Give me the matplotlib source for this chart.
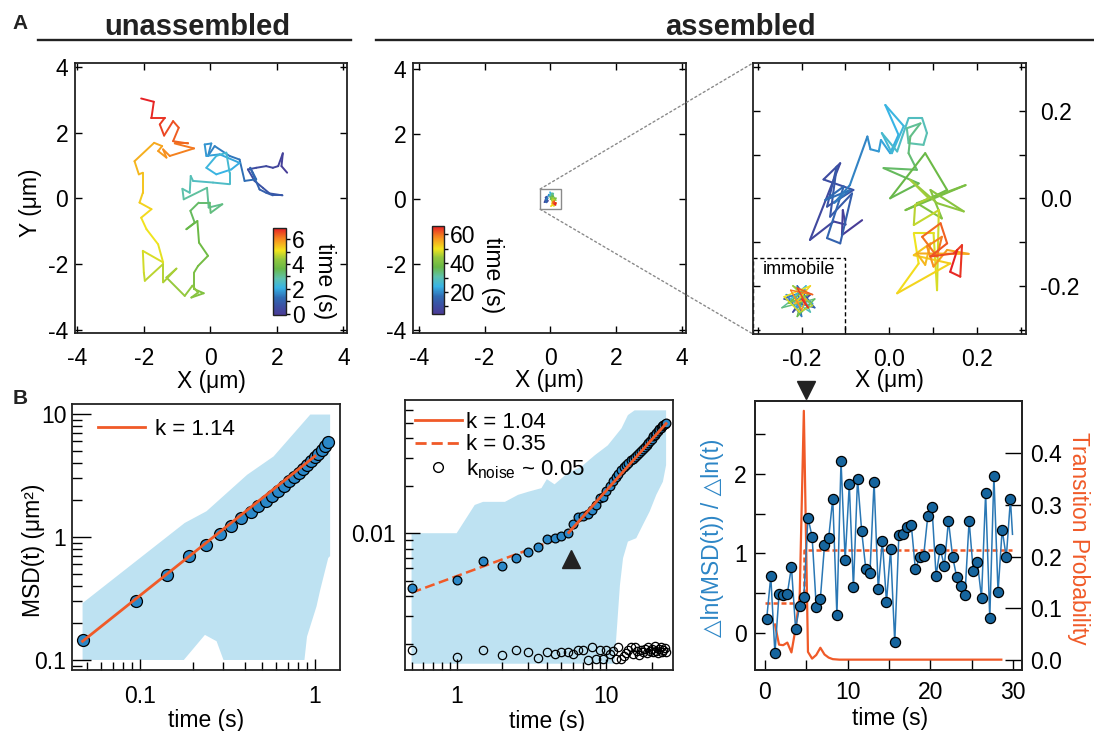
import numpy as np
import matplotlib
matplotlib.use("Agg")
import matplotlib.pyplot as plt
from matplotlib.collections import LineCollection
from matplotlib.colors import LinearSegmentedColormap, Normalize
from matplotlib.cm import ScalarMappable
from matplotlib.patches import Rectangle, ConnectionPatch
from matplotlib.lines import Line2D
from matplotlib.ticker import FixedLocator, FixedFormatter, NullFormatter, FuncFormatter, LogLocator
import matplotlib.transforms as mtransforms

plt.rcParams['font.family'] = ['Liberation Sans', 'DejaVu Sans']
plt.rcParams['axes.unicode_minus'] = False
FS = 16.5
plt.rcParams['font.size'] = FS

# ------------------------------------------------------------------ data
# A, unassembled trajectory (um); time 0 .. 6.9 s
unasm_x = [2.31, 2.14, 2.18, 2.04, 1.88, 1.68, 1.38, 1.13, 1.33, 1.58, 1.78, 2.17, 1.88, 1.68, 1.48,
           1.20, 1.28, 1.38, 1.03, 0.88, 0.58, 0.13, -0.07, 0.03, -0.17, -0.12, 0.28, 0.88, 0.63,
           0.18, -0.12, 0.18, 0.48, 0.58, 0.58, 0.08, -0.52, -0.59, -0.62, -0.84, -0.80, -0.10,
           -0.05, 0.36, 0.01, -0.02, -0.35, -0.60, -0.47, -0.72, -0.39, -0.34, -0.07, -0.37, -0.49,
           -0.49, -0.20, -0.57, -0.37, -0.54, -0.77, -1.32, -1.02, -1.42, -1.42, -1.97, -2.00,
           -2.03, -1.42, -1.57, -1.92, -2.08, -1.77, -2.13, -2.03, -2.03, -2.15, -2.28, -1.69,
           -1.45, -1.57, -1.32, -1.42, -1.22, -0.49, -1.07, -0.67, -1.12, -0.95, -1.12, -1.39,
           -1.52, -1.37, -1.77, -1.70, -2.08]
unasm_y = [0.78, 0.98, 1.37, 0.98, 0.93, 0.98, 0.93, 0.88, 0.53, 0.32, 0.15, 0.09, 0.09, 0.17, 0.27,
           0.93, 0.78, 0.58, 0.53, 1.18, 1.29, 1.59, 1.29, 1.67, 1.64, 1.29, 1.34, 1.08, 0.88,
           0.73, 0.93, 1.29, 1.39, 0.78, 0.43, 0.48, 0.53, 0.68, 0.17, 0.29, -0.03, 0.32,
           -0.28, -0.18, -0.44, -0.13, -0.13, -0.38, -0.74, -0.94, -0.69, -1.35, -1.75, -2.06, -2.26,
           -2.76, -2.89, -3.02, -2.87, -2.66, -2.97, -2.41, -2.14, -2.56, -2.00, -2.51, -2.26,
           -1.60, -1.95, -1.40, -0.94, -0.59, -0.33, -0.13, 0.17, 0.78, 0.73, 1.13, 1.69,
           1.59, 1.44, 1.24, 1.49, 1.29, 1.52, 1.67, 1.67, 1.74, 2.15, 2.35, 1.91,
           2.25, 2.45, 2.45, 2.94, 3.04]
unasm_trange = (0.0, 6.9)

# A, assembled trajectory (um); time ~4.7 .. 66 s
asm_x = [-0.062, -0.108, -0.106, -0.100,
         -0.127, -0.181, -0.112, -0.150, -0.082, -0.142, -0.120, -0.135, -0.085, -0.112, -0.142,
         -0.104, -0.146, -0.089, -0.125, -0.090,
         -0.050, -0.043, -0.024, -0.019,
         0.002, 0.021, -0.009, 0.033, 0.006, -0.017, 0.018,
         0.044, 0.075, 0.086, 0.078, 0.044, 0.040, 0.071, 0.048,
         0.044, 0.063, -0.013, 0.067, 0.002, 0.082, 0.132, 0.037, 0.174, 0.063, 0.120, 0.094,
         0.170, 0.109, 0.048, 0.090,
         0.059, 0.056, 0.113, 0.109, 0.101,
         0.056, 0.067, 0.018, 0.139, 0.056, 0.094, 0.082,
         0.063, 0.181, 0.132, 0.101, 0.086, 0.120, 0.109,
         0.075, 0.117, 0.132, 0.094, 0.147, 0.166, 0.162, 0.139, 0.155]
asm_y = [-0.050, -0.084, -0.027, -0.060,
         -0.053, -0.095, 0.080, 0.043, 0.019, -0.019, 0.072, -0.042, 0.011, -0.103, -0.091,
         0.027, -0.004, 0.019, -0.010, 0.030,
         0.141, 0.112, 0.107, 0.133,
         0.103, 0.145, 0.213, 0.165, 0.103, 0.149, 0.107,
         0.183, 0.183, 0.149, 0.122, 0.126, 0.160, 0.171, 0.141,
         0.103, 0.065, 0.069, 0.034, 0.000, 0.103, 0.019, -0.027, 0.030, -0.011, -0.046, 0.019,
         -0.030, -0.011, 0.042, 0.000,
         -0.015, -0.061, -0.027, -0.210, -0.080,
         -0.080, -0.149, -0.217, -0.149, -0.130, -0.103, -0.152,
         -0.126, -0.127, -0.118, -0.156, -0.110, -0.088, -0.133,
         -0.088, -0.057, -0.103, -0.133, -0.126, -0.107, -0.179, -0.168, -0.118]
asm_trange = (4.7, 66.0)

# immobile example (um)
immob_x = [-0.23, -0.18, -0.22, -0.19, -0.24, -0.17, -0.21, -0.20, -0.235, -0.175, -0.215, -0.19,
           -0.225, -0.18, -0.20, -0.245, -0.17, -0.21, -0.195, -0.23, -0.185, -0.22, -0.175, -0.205,
           -0.24, -0.18, -0.215, -0.19, -0.20, -0.225, -0.175, -0.21, -0.185, -0.20]
immob_y = [-0.24, -0.22, -0.26, -0.21, -0.23, -0.25, -0.20, -0.27, -0.22, -0.24, -0.25, -0.20,
           -0.23, -0.26, -0.215, -0.25, -0.23, -0.27, -0.21, -0.24, -0.22, -0.20, -0.245, -0.26,
           -0.225, -0.20, -0.24, -0.23, -0.255, -0.21, -0.22, -0.205, -0.25, -0.23]

# B1 unassembled MSD
msd1_t = [0.047, 0.095, 0.142, 0.19, 0.238, 0.285, 0.333, 0.38, 0.428, 0.475, 0.523, 0.57, 0.618,
          0.665, 0.713, 0.76, 0.808, 0.855, 0.903, 0.95, 0.998, 1.045, 1.093, 1.14, 1.188]
msd1_y = [0.146, 0.303, 0.488, 0.695, 0.866, 1.064, 1.236, 1.427, 1.60, 1.77, 1.95, 2.14, 2.38,
          2.61, 2.83, 3.05, 3.31, 3.57, 3.82, 4.12, 4.44, 4.76, 5.13, 5.52, 5.92]
fit1_t = [0.047, 1.0]
fit1_y = [0.142, 4.55]
band1_up_t = [0.047, 0.18, 0.24, 0.41, 0.58, 0.94, 1.22]
band1_up_y = [0.29, 1.30, 1.62, 3.21, 4.52, 9.9, 9.9]
band1_lo_t = [0.047, 0.178, 0.235, 0.274, 0.30, 0.87, 0.90, 1.02, 1.07, 1.19, 1.22]
band1_lo_y = [0.1, 0.1, 0.16, 0.142, 0.1, 0.1, 0.155, 0.273, 0.37, 0.675, 0.70]

# B2 assembled MSD
msd2_t = np.arange(1, 51) * 0.5
msd2_y = [0.00453, 0.00506, 0.00671, 0.00624, 0.00695, 0.00758, 0.00815, 0.0092, 0.0093, 0.0096,
          0.0101, 0.0114, 0.0127, 0.0128, 0.0132, 0.0140, 0.0150, 0.0168, 0.0170, 0.0186,
          0.0200, 0.0215, 0.0226, 0.0238, 0.0252, 0.0262, 0.0270, 0.0280, 0.0290, 0.0296,
          0.0305, 0.0312, 0.0322, 0.0330, 0.0340, 0.0352, 0.0362, 0.0373, 0.0385, 0.0398,
          0.0410, 0.0420, 0.0432, 0.0443, 0.0455, 0.0465, 0.0476, 0.0484, 0.0493, 0.0501]
noise2_y = [0.00182, 0.00164, 0.00181, 0.00169, 0.00182, 0.00177, 0.00161, 0.00177, 0.00172, 0.00177,
            0.00176, 0.00173, 0.00182, 0.00183, 0.00158, 0.00189, 0.00160, 0.00183, 0.00159, 0.00183,
            0.00172, 0.00179, 0.00160, 0.00189, 0.00160, 0.00168, 0.00175, 0.00182, 0.00190, 0.00172,
            0.00189, 0.00180, 0.00170, 0.00182, 0.00178, 0.00184, 0.00174, 0.00190, 0.00180, 0.00184,
            0.00178, 0.00192, 0.00180, 0.00175, 0.00186, 0.00190, 0.00178, 0.00183, 0.00187, 0.00176]
fit2a_t = [5.6, 25.0]      # k = 1.04
fit2a_y = [0.0101, 0.0495]
fit2b_t = [0.5, 4.6]       # k = 0.35
fit2b_y = [0.0042, 0.0091]
band2_up_t = [0.5, 1.0, 1.32, 1.5, 2.1, 2.57, 3.0, 3.68, 4.0, 4.5, 5.5, 6.8, 8.4, 10.2, 12.6, 13.9, 15.4, 25.0]
band2_up_y = [0.0100, 0.0100, 0.0151, 0.0158, 0.0158, 0.0175, 0.0183, 0.0193, 0.0220, 0.0204,
              0.0240, 0.0264, 0.0313, 0.0360, 0.0462, 0.0560, 0.0600, 0.0600]
band2_lo_t = [0.5, 11.3, 12.3, 12.9, 13.9, 15.8, 17.5, 19.4, 21.5, 23.8, 25.0]
band2_lo_y = [0.00149, 0.00149, 0.0047, 0.00695, 0.00885, 0.0093, 0.0113, 0.0137, 0.0175, 0.0212, 0.027]
plateau_mark_t, plateau_mark_y = 5.8, 0.0069

# B3 local slope and transition probability
slope_t = 0.2 + 0.5 * np.arange(60)
slope_y = [0.17, 0.71, -0.26, 0.49, 0.48, 0.49, 0.83, 0.05, 0.34, 0.45,
           1.45, 1.21, 0.33, 0.43, 1.10, 1.19, 1.69, 0.22, 2.16, 0.92,
           1.87, 0.57, 1.94, 1.28, 0.80, 0.75, 1.90, 0.55, 1.16, 0.39,
           1.05, -0.12, 1.23, 1.24, 1.33, 1.36, 0.80, 0.95, 0.97, 1.47,
           1.59, 0.72, 1.06, 0.84, 1.41, 0.96, 0.70, 0.59, 0.48, 1.41,
           0.78, 0.89, 0.44, 1.76, 0.18, 1.98, 0.51, 1.30, 0.95, 1.68]
slope_end_t, slope_end_y = 29.95, 1.24
step_t = [0.0, 4.7, 4.7, 29.9]
step_k = [0.37, 0.37, 1.04, 1.04]
prob_t = [1.2, 1.7, 2.2, 2.7, 3.2, 3.7, 4.2, 4.7, 5.2, 5.7, 6.2, 6.7, 7.2, 7.7, 8.2, 9.0, 28.6]
prob_p = [0.069, 0.030, 0.029, 0.034, 0.015, 0.061, 0.126, 0.482, 0.016, 0.003, 0.010, 0.024,
          0.011, 0.005, 0.002, 0.001, 0.001]
transition_t = 4.95

# ------------------------------------------------------------------ style
W, H = 1094, 731
fig = plt.figure(figsize=(W / 100, H / 100), dpi=100)
fig.patch.set_facecolor('white')

ORANGE = '#f05a28'
FILL = '#bee2f2'
MBLUE = '#2b88c8'
DBLUE = '#16659e'
LBLUE = '#2a77b4'
LABBLUE = '#2d86c6'
SPC = '#222222'

cmap = LinearSegmentedColormap.from_list('traj', [
    (0.00, '#4a3b96'), (0.10, '#3b50a3'), (0.20, '#2f6cb4'), (0.31, '#38b4e6'),
    (0.42, '#5ec2ad'), (0.53, '#68b847'), (0.64, '#93c83e'), (0.74, '#f2e51d'),
    (0.86, '#f7941e'), (1.00, '#e61e25')])


def px_axes(l, t, r, b):
    return fig.add_axes([l / W, 1 - b / H, (r - l) / W, (b - t) / H])


def frame(ax, lw=1.3):
    for s in ax.spines.values():
        s.set_color(SPC)
        s.set_linewidth(lw)


def add_traj(ax, x, y, trange, norm, lw):
    pts = np.column_stack([x, y])
    segs = np.stack([pts[:-1], pts[1:]], axis=1)
    t = np.linspace(trange[0], trange[1], len(x))
    lc = LineCollection(segs, cmap=cmap, norm=norm, linewidths=lw,
                        capstyle='round', joinstyle='round')
    lc.set_array(0.5 * (t[:-1] + t[1:]))
    ax.add_collection(lc)


def add_cbar(ax, rect, norm, ticks, minor, label_xy):
    cax = ax.inset_axes(rect)
    cb = fig.colorbar(ScalarMappable(norm=norm, cmap=cmap), cax=cax)
    cb.set_ticks(ticks)
    cb.set_ticklabels([f'{v:g}' for v in ticks])
    cax.yaxis.set_minor_locator(FixedLocator(minor))
    cax.tick_params(which='both', direction='out', length=3, width=1, labelsize=FS, pad=1)
    cb.outline.set_linewidth(1.0)
    cb.outline.set_edgecolor(SPC)
    cax.set_ylabel('time (s)', rotation=-90, va='center', ha='center', fontsize=FS)
    cax.yaxis.set_label_coords(*label_xy)
    return cax


# ------------------------------------------------------------------ headers
fig.text(20 / W, 1 - 29 / H, 'A', weight='bold', size=15, ha='center', va='baseline', color='#222')
fig.text(20 / W, 1 - 404 / H, 'B', weight='bold', size=15, ha='center', va='baseline', color='#222')
fig.text(197 / W, 1 - 35 / H, 'unassembled', weight='bold', size=21, ha='center', va='baseline', color='#222')
fig.text(740 / W, 1 - 35 / H, 'assembled', weight='bold', size=21, ha='center', va='baseline', color='#222')
fig.add_artist(Line2D([38 / W, 351 / W], [1 - 40 / H, 1 - 40 / H], color='#222', lw=1.7))
fig.add_artist(Line2D([376 / W, 1.0], [1 - 40 / H, 1 - 40 / H], color='#222', lw=1.7))

# ------------------------------------------------------------------ A1
norm1 = Normalize(-0.1, 6.9)
a1 = px_axes(75, 63, 347, 333)
add_traj(a1, unasm_x, unasm_y, unasm_trange, norm1, 1.4)
a1.set_xlim(-4.07, 4.11)
a1.set_ylim(-4.1, 4.12)
a1.set_xticks([-4, -2, 0, 2, 4])
a1.set_yticks([-4, -2, 0, 2, 4])
a1.tick_params(direction='in', length=5, width=1, top=True, right=True, labelsize=FS)
a1.tick_params(axis='x', pad=10)
a1.tick_params(axis='y', pad=5)
frame(a1)
a1.set_xlabel('X (\u03bcm)', fontsize=FS, va='center')
a1.xaxis.set_label_coords(0.5, -0.178)
a1.set_ylabel('Y (\u03bcm)', fontsize=FS, va='center')
a1.yaxis.set_label_coords(-0.162, 0.481)
add_cbar(a1, [0.728, 0.067, 0.048, 0.322], norm1, [0, 2, 4, 6], [1, 3, 5], (3.95, 0.39))

# ------------------------------------------------------------------ A2
norm2 = Normalize(*asm_trange)
a2 = px_axes(413, 63, 686, 333)
add_traj(a2, asm_x, asm_y, asm_trange, norm2, 1.0)
a2.add_patch(Rectangle((-0.31, -0.31), 0.62, 0.62, fill=False, ec='#8a8a8a', lw=1.0))
a2.set_xlim(-4.18, 4.13)
a2.set_ylim(-4.1, 4.17)
a2.set_xticks([-4, -2, 0, 2, 4])
a2.set_yticks([-4, -2, 0, 2, 4])
a2.tick_params(direction='in', length=5, width=1, top=True, right=True, labelsize=FS)
a2.tick_params(axis='x', pad=10)
a2.tick_params(axis='y', pad=5)
frame(a2)
a2.set_xlabel('X (\u03bcm)', fontsize=FS, va='center')
a2.xaxis.set_label_coords(0.5, -0.176)
add_cbar(a2, [0.069, 0.071, 0.044, 0.326], norm2, [20, 40, 60], [10, 30, 50], (5.05, 0.443))

# ------------------------------------------------------------------ A3
a3 = px_axes(753, 63, 1026, 334)
add_traj(a3, asm_x, asm_y, asm_trange, norm2, 1.5)
add_traj(a3, immob_x, immob_y, asm_trange, norm2, 1.1)
a3.add_patch(Rectangle((-0.312, -0.312), 0.212, 0.175, fill=False, ec='k', lw=1.0, ls=(0, (3, 2))))
a3.text(-0.206, -0.163, 'immobile', fontsize=13, ha='center', va='center')
a3.set_xlim(-0.311, 0.312)
a3.set_ylim(-0.31, 0.309)
tk = [-0.3, -0.2, -0.1, 0.0, 0.1, 0.2, 0.3]
tl = ['', '-0.2', '', '0.0', '', '0.2', '']
a3.xaxis.set_major_locator(FixedLocator(tk))
a3.xaxis.set_major_formatter(FixedFormatter(tl))
a3.yaxis.set_major_locator(FixedLocator(tk))
a3.yaxis.set_major_formatter(FixedFormatter(tl))
a3.tick_params(direction='in', length=5, width=1, top=True, right=True, left=True,
               labelleft=False, labelright=True, labelsize=FS, pad=10)
frame(a3)
a3.set_xlabel('X (\u03bcm)', fontsize=FS, va='center')
a3.xaxis.set_label_coords(0.5, -0.173)

for xyA, xyB in [((-0.31, 0.31), (0, 1)), ((-0.31, -0.31), (0, 0))]:
    con = ConnectionPatch(xyA=xyA, coordsA=a2.transData, xyB=xyB, coordsB=a3.transAxes,
                          color='#8a8a8a', lw=1.0, ls=(0, (1.5, 2)))
    fig.add_artist(con)

# ------------------------------------------------------------------ B1
b1 = px_axes(72, 404, 340, 670)
b1.set_xscale('log')
b1.set_yscale('log')
b1.fill(np.concatenate([band1_up_t, band1_lo_t[::-1]]),
        np.concatenate([band1_up_y, band1_lo_y[::-1]]), color=FILL, lw=0, zorder=1)
b1.plot(msd1_t, msd1_y, 'o', ms=8.6, mfc=MBLUE, mec='k', mew=0.9, zorder=3)
b1.plot(fit1_t, fit1_y, color=ORANGE, lw=2, zorder=4, label='k = 1.14')
b1.set_xlim(0.0409, 1.389)
b1.set_ylim(0.0829, 12.06)
fmt = FuncFormatter(lambda v, p: f'{v:g}')
for axis in (b1.xaxis, b1.yaxis):
    axis.set_major_locator(LogLocator(base=10))
    axis.set_minor_locator(LogLocator(base=10, subs=np.arange(2, 10)))
    axis.set_major_formatter(fmt)
    axis.set_minor_formatter(NullFormatter())
b1.tick_params(axis='y', which='major', direction='in', length=14, width=1, labelsize=FS, pad=4)
b1.tick_params(axis='y', which='minor', direction='in', length=7, width=1)
b1.tick_params(axis='x', which='major', direction='in', length=8, width=1, labelsize=FS, pad=11)
b1.tick_params(axis='x', which='minor', direction='in', length=5.5, width=1)
frame(b1)
b1.set_xlabel('time (s)', fontsize=FS, va='center')
b1.xaxis.set_label_coords(0.5, -0.19)
b1.set_ylabel('MSD(t) (\u03bcm\u00b2)', fontsize=FS, va='center')
b1.yaxis.set_label_coords(-0.142, 0.451)
b1.legend(loc='upper left', bbox_to_anchor=(0.097, 0.945), frameon=False, fontsize=16,
          handlelength=2.1, handletextpad=0.45, borderpad=0, borderaxespad=0)

# ------------------------------------------------------------------ B2
b2 = px_axes(405, 400, 673, 670)
b2.set_xscale('log')
b2.set_yscale('log')
b2.fill(np.concatenate([band2_up_t, band2_lo_t[::-1]]),
        np.concatenate([band2_up_y, band2_lo_y[::-1]]), color=FILL, lw=0, zorder=1)
b2.plot(msd2_t, noise2_y, 'o', ms=6, mfc='none', mec='k', mew=0.9, zorder=2)
b2.plot(fit2b_t, fit2b_y, color=ORANGE, lw=1.8, dashes=(4, 1.8), zorder=2.5)
b2.plot(msd2_t, msd2_y, 'o', ms=6.3, mfc=MBLUE, mec='k', mew=0.9, zorder=3)
b2.plot(fit2a_t, fit2a_y, color=ORANGE, lw=2, zorder=4)
b2.plot([plateau_mark_t], [plateau_mark_y], marker='^', ms=13, color='#222', ls='none', zorder=5)
b2.set_xlim(0.452, 27.8)
b2.set_ylim(0.00136, 0.0698)
for axis in (b2.xaxis, b2.yaxis):
    axis.set_major_locator(LogLocator(base=10))
    axis.set_minor_locator(LogLocator(base=10, subs=np.arange(2, 10)))
    axis.set_major_formatter(fmt)
    axis.set_minor_formatter(NullFormatter())
b2.tick_params(axis='y', which='major', direction='in', length=11, width=1, labelsize=FS, pad=7)
b2.tick_params(axis='y', which='minor', direction='in', length=6, width=1)
b2.tick_params(axis='x', which='major', direction='in', length=8, width=1, labelsize=FS, pad=11)
b2.tick_params(axis='x', which='minor', direction='in', length=6, width=1)
frame(b2)
b2.set_xlabel('time (s)', fontsize=FS, va='center')
b2.xaxis.set_label_coords(0.529, -0.19)
hs = [Line2D([], [], color=ORANGE, lw=2),
      Line2D([], [], color=ORANGE, lw=2, dashes=(4, 1.8)),
      Line2D([], [], ls='none', marker='o', ms=7, mfc='none', mec='k', mew=1)]
b2.legend(hs, ['k = 1.04', 'k = 0.35', r'k$_{\mathregular{noise}}$ ~ 0.05'],
          loc='upper left', bbox_to_anchor=(0.037, 0.957), frameon=False, fontsize=16,
          handlelength=2.1, handletextpad=0.2, borderpad=0, borderaxespad=0, labelspacing=0.08)

# ------------------------------------------------------------------ B3
b3 = px_axes(755, 401, 1022, 670)
tw = b3.twinx()
b3.set_zorder(tw.get_zorder() + 1)
b3.patch.set_visible(False)
tw.plot(prob_t, prob_p, color=ORANGE, lw=1.6)
b3.plot(step_t, step_k, color=ORANGE, lw=1.8, dashes=(2, 1.2), zorder=2)
b3.plot(np.append(slope_t, slope_end_t), np.append(slope_y, slope_end_y), color=LBLUE, lw=1.1, zorder=3)
b3.plot(slope_t, slope_y, 'o', ms=7.3, mfc=DBLUE, mec='k', mew=0.9, zorder=4)
b3.plot([transition_t], [1.04], marker='v', ms=13, color='#222', ls='none', clip_on=False,
        transform=mtransforms.blended_transform_factory(b3.transData, b3.transAxes))
b3.set_xlim(-1.21, 31.1)
b3.set_ylim(-0.47, 2.92)
tw.set_ylim(-0.019, 0.501)
b3.set_xticks([0, 10, 20, 30])
b3.xaxis.set_minor_locator(FixedLocator([5, 15, 25]))
b3.set_yticks([0, 1, 2])
b3.yaxis.set_minor_locator(FixedLocator([0.5, 1.5, 2.5]))
b3.tick_params(which='both', direction='in', length=7, width=1, labelsize=FS)
b3.tick_params(axis='x', pad=8)
b3.tick_params(axis='y', pad=6)
tw.set_yticks([0.0, 0.1, 0.2, 0.3, 0.4])
tw.set_yticklabels(['0.0', '0.1', '0.2', '0.3', '0.4'])
tw.tick_params(direction='in', length=12, width=1, labelsize=FS, pad=6)
frame(b3)
frame(tw)
b3.set_xlabel('time (s)', fontsize=FS, va='center')
b3.xaxis.set_label_coords(0.506, -0.18)
b3.set_ylabel('\u25b3ln(MSD(t)) / \u25b3ln(t)', fontsize=FS, color=LABBLUE, va='center')
b3.yaxis.set_label_coords(-0.16, 0.491)
tw.set_ylabel('Transition Probability', fontsize=FS, color=ORANGE, rotation=-90, va='center')
tw.yaxis.set_label_coords(1.212, 0.491)

fig.savefig('out.png', dpi=100, facecolor='white')
